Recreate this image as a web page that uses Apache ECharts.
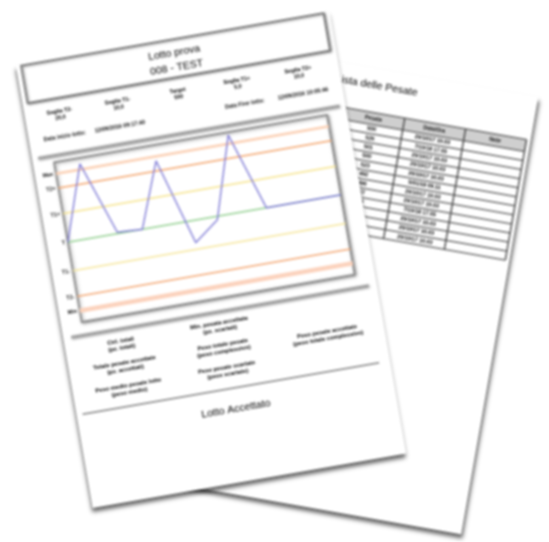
<!DOCTYPE html>
<html><head><meta charset="utf-8">
<script src="https://cdn.jsdelivr.net/npm/echarts/dist/echarts.min.js"></script>
<style>
html,body{margin:0;padding:0;background:#fff;width:549px;height:542px;overflow:hidden;}
.page{position:absolute;background:#fff;}
#back{left:183.8px;top:66.2px;width:318px;height:444px;transform:rotate(10deg);box-shadow:2px 4px 4px rgba(0,0,0,0.6);filter:blur(0.9px);}
#front{left:51.9px;top:35px;width:318px;height:449px;transform:rotate(-9.85deg);box-shadow:-1px 4px 4px rgba(0,0,0,0.6);filter:blur(0.9px);}
</style></head>
<body>
<div id="back" class="page"></div>
<div id="front" class="page"></div>
<script>
// ---------- data ----------
const pointLabels = ['1','2','3','4','5','6','7','8','9','10','11','12'];
const weights = [500, 526, 500.5, 500, 522.5, 492.3, 498.8, 527, 500, 500, 500, 500];
const thresholdNames = ['Max','T2+','T1+','T','T1-','T2-','Min'];
const thresholdValues = [524, 519, 510, 500, 490, 481, 476];
const infoLabels = ['Soglia T2-','Soglia T1-','Target','Soglia T1+','Soglia T2+'];
const infoValues = ['20,0','10,0','500','5,0','10,0'];
const dateLabels = ['Data inizio lotto:','Data Fine lotto:'];
const dateValues = ['12/09/2016 09:17:40','12/09/2016 10:05:46'];
const summaryCol1 = [['Ctrl. totali','(pz. totali)'],['Totale pesate accettate','(pz. accettati)'],['Peso medio pesate lotto','(peso medio)']];
const summaryCol2 = [['Min. pesata accettata','(pz. scartati)'],['Peso totale pesate','(peso complessivo)'],['Peso pesate scartate','(peso scartato)']];
const summaryCol3 = [['Peso pesate accettate','(peso totale complessivo)']];
const titleLines = ['Lotto prova','008 - TEST'];
const resultText = 'Lotto Accettato';
const tableTitle = 'Lista delle Pesate';
const tableHeaders = ['N°','Lotto','Pesata','Data/Ora','Note'];
const weighTimes = ['20/10/17 10.03','7/10/18 17.55','20/10/17 10.03','20/10/17 10.03','20/10/17 10.03','5/01/18 09.11','20/10/17 10.03','20/10/17 10.03','7/10/18 17.55','20/10/17 10.03','20/10/17 10.03','20/10/17 10.03'];

// ---------- styles ----------
const FONT = 'Liberation Sans, Arial, sans-serif';
const thresholdStyles = [
  {color:'#fbcfb3', width:2.5},
  {color:'#f5a56c', width:1.5},
  {color:'#f7e48c', width:1.5},
  {color:'#92cf8f', width:1.5},
  {color:'#f7e89c', width:1.5},
  {color:'#f4a772', width:1.5},
  {color:'#fbd2bc', width:4.5}
];
function txt(x,y,text,size,opts){
  return {type:'text', x:x, y:y, style:Object.assign({text:text, fontSize:size, fontFamily:FONT, fill:'#111',
    textAlign:'center', verticalAlign:'middle', textVerticalAlign:'middle'}, opts||{})};
}
const SMALL = {fontWeight:'bold', fill:'#000'};
function hline(x1,x2,y,color,w,shadow){
  const s = {stroke:color, lineWidth:w};
  if(shadow){ s.shadowBlur=2; s.shadowColor='rgba(0,0,0,0.45)'; s.shadowOffsetY=1.2; s.shadowOffsetX=0.5; }
  return {type:'line', shape:{x1:x1,y1:y,x2:x2,y2:y}, style:s};
}

// ---------- front page ----------
const fg = [];
fg.push({type:'rect', shape:{x:5,y:1,width:307,height:38},
  style:{fill:'#fff', stroke:'#7a7a7a', lineWidth:1.7, shadowBlur:2, shadowColor:'rgba(0,0,0,0.45)', shadowOffsetX:1, shadowOffsetY:1}});
fg.push(txt(158,14.5,titleLines[0],10.5,{fill:'#000'}));
fg.push(txt(158,29.5,titleLines[1],10.5,{fill:'#000'}));
const infoX = [35,94,155,215,277];
infoLabels.forEach((l,i)=>{
  fg.push(txt(infoX[i],52.3,l,5.4,SMALL));
  fg.push(txt(infoX[i],59.2,infoValues[i],5.4,SMALL));
});
fg.push(txt(36,78,dateLabels[0],5.5,SMALL));
fg.push(txt(92,78,dateValues[0],5.5,SMALL));
fg.push(txt(219,77,dateLabels[1],5.5,SMALL));
fg.push(txt(278,77,dateValues[1],5.5,SMALL));
fg.push(hline(6,312,95,'#a0a0a0',2.5,true));
fg.push(hline(8,310,277,'#a0a0a0',2.5,true));
const c1y=[293,315,338], c2y=[292,314,337];
summaryCol1.forEach((p,i)=>{ fg.push(txt(56,c1y[i]-3.5,p[0],5.8,SMALL)); fg.push(txt(56,c1y[i]+3.5,p[1],5.8,SMALL)); });
summaryCol2.forEach((p,i)=>{ fg.push(txt(156,c2y[i]-3.5,p[0],5.8,SMALL)); fg.push(txt(156,c2y[i]+3.5,p[1],5.8,SMALL)); });
summaryCol3.forEach((p,i)=>{ fg.push(txt(261,319-3.5,p[0],5.8,SMALL)); fg.push(txt(261,319+3.5,p[1],5.8,SMALL)); });
fg.push(hline(6,307,355,'#666',1.3,false));
fg.push(txt(158,376,resultText,10.5,{fill:'#000'}));

const front = echarts.init(document.getElementById('front'), null, {renderer:'canvas', devicePixelRatio:2});
front.setOption({
  animation:false,
  backgroundColor:'#fff',
  grid:{left:21, top:102, width:277, height:162, show:true, borderColor:'#888', borderWidth:1.7,
    backgroundColor:'#fff', shadowBlur:3, shadowColor:'rgba(0,0,0,0.4)', shadowOffsetX:1, shadowOffsetY:1},
  xAxis:{type:'category', data:pointLabels, boundaryGap:false, show:false},
  yAxis:{type:'value', min:472, max:528, show:false},
  series:[{
    type:'line', data:weights, symbol:'none', z:3,
    lineStyle:{color:'#7f7bd6', width:1.4},
    markLine:{
      silent:true, symbol:'none', z:1, animation:false,
      label:{show:true, position:'start', formatter:'{b}', fontSize:5.4, fontWeight:'bold', color:'#111', distance:3, fontFamily:FONT},
      data: thresholdValues.map((v,i)=>({name:thresholdNames[i], yAxis:v,
        lineStyle:{color:thresholdStyles[i].color, width:thresholdStyles[i].width, type:'solid'}}))
    }
  }],
  graphic: fg
});

// ---------- back page ----------
const bg = [];
bg.push(txt(157,17,tableTitle,10.5,{fill:'#000'}));
const colX = [5, 66.8, 128.6, 190.4, 252.2, 314];
const tTop = 44, headH = 12, rowH = 9.2;
const nRows = weights.length;
const tBottom = tTop + headH + rowH*nRows;
bg.push({type:'rect', shape:{x:colX[0], y:tTop, width:colX[5]-colX[0], height:headH}, style:{fill:'#cfcfcf'}});
for(let r=0;r<=nRows;r++){
  const y = tTop + headH + r*rowH;
  bg.push(hline(colX[0],colX[5],y,'#707070',1.5,false));
}
bg.push(hline(colX[0],colX[5],tTop,'#555',1.3,false));
colX.forEach(x=>{
  bg.push({type:'line', shape:{x1:x,y1:tTop,x2:x,y2:tBottom}, style:{stroke:'#444', lineWidth:1.4}});
});
tableHeaders.forEach((h,i)=>{ bg.push(txt((colX[i]+colX[i+1])/2, tTop+headH/2, h, 5.3,SMALL)); });
for(let r=0;r<nRows;r++){
  const y = tTop + headH + r*rowH + rowH/2;
  bg.push(txt((colX[0]+colX[1])/2, y, String(r+1), 5.4,SMALL));
  bg.push(txt((colX[1]+colX[2])/2, y, titleLines[1].split(' ')[0], 5.4,SMALL));
  bg.push(txt((colX[2]+colX[3])/2, y, String(Math.round(weights[r])), 5.4,SMALL));
  bg.push(txt((colX[3]+colX[4])/2, y, weighTimes[r], 5.4,SMALL));
}
const back = echarts.init(document.getElementById('back'), null, {renderer:'canvas', devicePixelRatio:2});
back.setOption({animation:false, backgroundColor:'#fff', graphic:bg});
</script>
</body></html>
